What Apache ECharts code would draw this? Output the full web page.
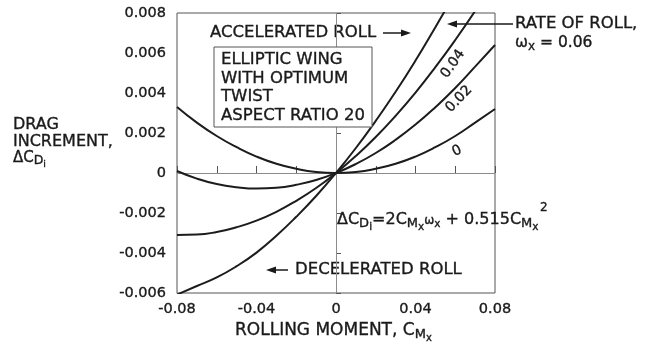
<!DOCTYPE html>
<html>
<head>
<meta charset="utf-8">
<script src="https://cdn.jsdelivr.net/npm/echarts@6/dist/echarts.min.js"></script>
<style>
html,body{margin:0;padding:0;background:#fff;}
#chart{width:648px;height:343px;}
</style>
</head>
<body>
<div id="chart"></div>
<script>
// Rolling moment C_Mx (x values)
const rollingMoment = [-0.08, -0.07, -0.06, -0.05, -0.04, -0.03, -0.02, -0.01, 0, 0.01, 0.02, 0.03, 0.04, 0.05, 0.06, 0.07, 0.08];
// Drag increment (rate of roll wx)
const dragW000 = [0.0033, 0.00252, 0.00185, 0.00129, 0.00082, 0.00046, 0.00021, 0.00005, 0, 0.00005, 0.00021, 0.00046, 0.00082, 0.00129, 0.00185, 0.00252, 0.0032];
const dragW002 = [0.0001, -0.00028, -0.00055, -0.00071, -0.00078, -0.00074, -0.00059, -0.00035, 0, 0.00045, 0.001, 0.00166, 0.00242, 0.00329, 0.00425, 0.00532, 0.0064];
const dragW004 = [-0.0031, -0.00308, -0.00295, -0.00271, -0.00238, -0.00194, -0.00139, -0.00075, 0, 0.00085, 0.0018, 0.00286, 0.00402, 0.00529, 0.00665, 0.0081, null];
const dragW006 = [-0.00608, -0.00565, -0.00522, -0.00466, -0.00398, -0.00314, -0.00219, -0.00115, 0, 0.00125, 0.00261, 0.00406, 0.00562, 0.00729, 0.0090, null, null];
const seriesNames = ['0', '0.02', '0.04', '0.06'];
const seriesValues = [dragW000, dragW002, dragW004, dragW006];
const xTicks = [-0.08, -0.04, 0, 0.04, 0.08];
const yTicks = [-0.006, -0.004, -0.002, 0, 0.002, 0.004, 0.006, 0.008];

const FONT = 'DejaVu Sans';
const INK = '#1a1a1a';
const SW = 0.35; // slight stroke to thicken type like the print

function pairs(vals) {
  const out = [];
  vals.forEach((v, i) => { if (v !== null) out.push([rollingMoment[i], v]); });
  return out;
}

const series = seriesValues.map((vals, i) => ({
  name: seriesNames[i],
  type: 'line',
  data: pairs(vals),
  smooth: true,
  showSymbol: false,
  clip: true,
  lineStyle: { color: '#1c1c1c', width: 2 },
  z: 3,
  silent: true
}));
series[0].markLine = {
  silent: true,
  symbol: 'none',
  label: { show: false },
  lineStyle: { color: '#8c8c8c', width: 1, type: 'solid' },
  data: [{ xAxis: 0 }, { yAxis: 0 }],
  z: 1
};

function txt(x, y, text, size, extra) {
  return Object.assign({ type: 'text', x: x, y: y, style: Object.assign({
    text: text, fontFamily: FONT, fontSize: size, fill: INK, stroke: INK, lineWidth: SW, textVerticalAlign: 'middle'
  }, extra || {}) });
}
function rtxt(x, y, text, rich) {
  Object.keys(rich).forEach(k => Object.assign(rich[k], { fontFamily: FONT, fill: INK, stroke: INK, lineWidth: SW }));
  return { type: 'text', x: x, y: y, z: 11, style: { text: text, fill: INK, textVerticalAlign: 'middle', rich: rich } };
}

const labelCommon = { color: INK, fontFamily: FONT, fontSize: 14.5, textBorderColor: INK, textBorderWidth: SW };

const chart = echarts.init(document.getElementById('chart'), null, { renderer: 'canvas' });
chart.setOption({
  backgroundColor: '#fff',
  animation: false,
  grid: { left: 177, right: 153, top: 13, bottom: 50, show: true, borderColor: '#555', borderWidth: 1, backgroundColor: 'transparent' },
  xAxis: {
    type: 'value', min: -0.08, max: 0.08, interval: 0.02,
    axisLine: { show: false },
    axisTick: { show: true, inside: true, length: 7, lineStyle: { color: '#555' } },
    splitLine: { show: false },
    axisLabel: Object.assign({
      margin: 9,
      formatter: v => {
        const k = Math.round(v * 100);
        const hit = xTicks.find(t => Math.round(t * 100) === k);
        if (hit === undefined) return '';
        return k === 0 ? '0' : hit.toFixed(2);
      }
    }, labelCommon)
  },
  yAxis: {
    type: 'value', min: -0.006, max: 0.008, interval: 0.002,
    axisLine: { show: false },
    axisTick: { show: true, inside: true, length: 5, lineStyle: { color: '#555' } },
    splitLine: { show: false },
    axisLabel: Object.assign({
      margin: 11,
      formatter: v => {
        const k = Math.round(v * 1000);
        const hit = yTicks.find(t => Math.round(t * 1000) === k);
        if (hit === undefined) return '';
        return k === 0 ? '0' : hit.toFixed(3);
      }
    }, labelCommon)
  },
  series: series,
  graphic: [
    // y-axis title
    txt(13, 125, 'DRAG', 16),
    txt(13, 142, 'INCREMENT,', 16),
    rtxt(13, 158, '{m|ΔC}{s|D}{ss|i}', {
      m: { fontSize: 15 },
      s: { fontSize: 12.5, padding: [6, 0, 0, 0] },
      ss: { fontSize: 9.5, padding: [14, 0, 0, 0] }
    }),
    // accelerated roll
    txt(210, 33, 'ACCELERATED ROLL', 16.5),
    { type: 'line', shape: { x1: 383, y1: 33, x2: 404, y2: 33 }, style: { stroke: INK, lineWidth: 1.5 } },
    { type: 'polygon', shape: { points: [[401, 29.5], [411, 33], [401, 36.5]] }, style: { fill: INK } },
    // description box
    { type: 'rect', shape: { x: 214, y: 47, width: 158, height: 80 }, style: { fill: '#fff', stroke: '#555', lineWidth: 1 }, z: 10 },
    Object.assign(txt(221, 60, 'ELLIPTIC WING', 16.5), { z: 11 }),
    Object.assign(txt(221, 78.5, 'WITH OPTIMUM', 16.5), { z: 11 }),
    Object.assign(txt(221, 97, 'TWIST', 16.5), { z: 11 }),
    Object.assign(txt(221, 116, 'ASPECT RATIO 20', 16.5), { z: 11 }),
    // rate of roll
    { type: 'line', shape: { x1: 454, y1: 24, x2: 513, y2: 24 }, style: { stroke: INK, lineWidth: 1.5 } },
    { type: 'polygon', shape: { points: [[457, 20.5], [447, 24], [457, 27.5]] }, style: { fill: INK } },
    txt(515, 24, 'RATE OF ROLL,', 16.5),
    rtxt(515, 43, '{m|ω}{s|x}{m| = 0.06}', {
      m: { fontSize: 15.5 },
      s: { fontSize: 12, padding: [8, 0, 0, 0] }
    }),
    // curve labels
    Object.assign(txt(453, 64, '0.04', 14, { textAlign: 'center' }), { rotation: 55 * Math.PI / 180 }),
    Object.assign(txt(459, 99, '0.02', 14, { textAlign: 'center' }), { rotation: 46 * Math.PI / 180 }),
    Object.assign(txt(457, 151, '0', 14, { textAlign: 'center' }), { rotation: 25 * Math.PI / 180 }),
    // equation
    rtxt(337, 220, '{m|ΔC}{s|D}{ss|i}{m|=2C}{s|M}{ss|x}{w|ω}{ws|x}{m| + 0.515C}{s|M}{ss|x}', {
      m: { fontSize: 16 },
      s: { fontSize: 13, padding: [7, 0, 0, 0] },
      ss: { fontSize: 10.5, padding: [15, 0, 0, 0] },
      w: { fontSize: 12, padding: [2, 0, 0, 0] },
      ws: { fontSize: 10.5, padding: [9, 0, 0, 0] }
    }),
    Object.assign(txt(540, 208, '2', 12), { z: 11 }),
    // decelerated roll
    { type: 'polygon', shape: { points: [[276, 266.5], [266, 270], [276, 273.5]] }, style: { fill: INK } },
    { type: 'line', shape: { x1: 273, y1: 270, x2: 288, y2: 270 }, style: { stroke: INK, lineWidth: 1.5 } },
    txt(295, 270, 'DECELERATED ROLL', 16.5),
    // x-axis title
    rtxt(235, 331, '{m|ROLLING MOMENT, C}{s|M}{ss|x}', {
      m: { fontSize: 17 },
      s: { fontSize: 13, padding: [7, 0, 0, 0] },
      ss: { fontSize: 10, padding: [15, 0, 0, 0] }
    })
  ]
});
</script>
</body>
</html>
